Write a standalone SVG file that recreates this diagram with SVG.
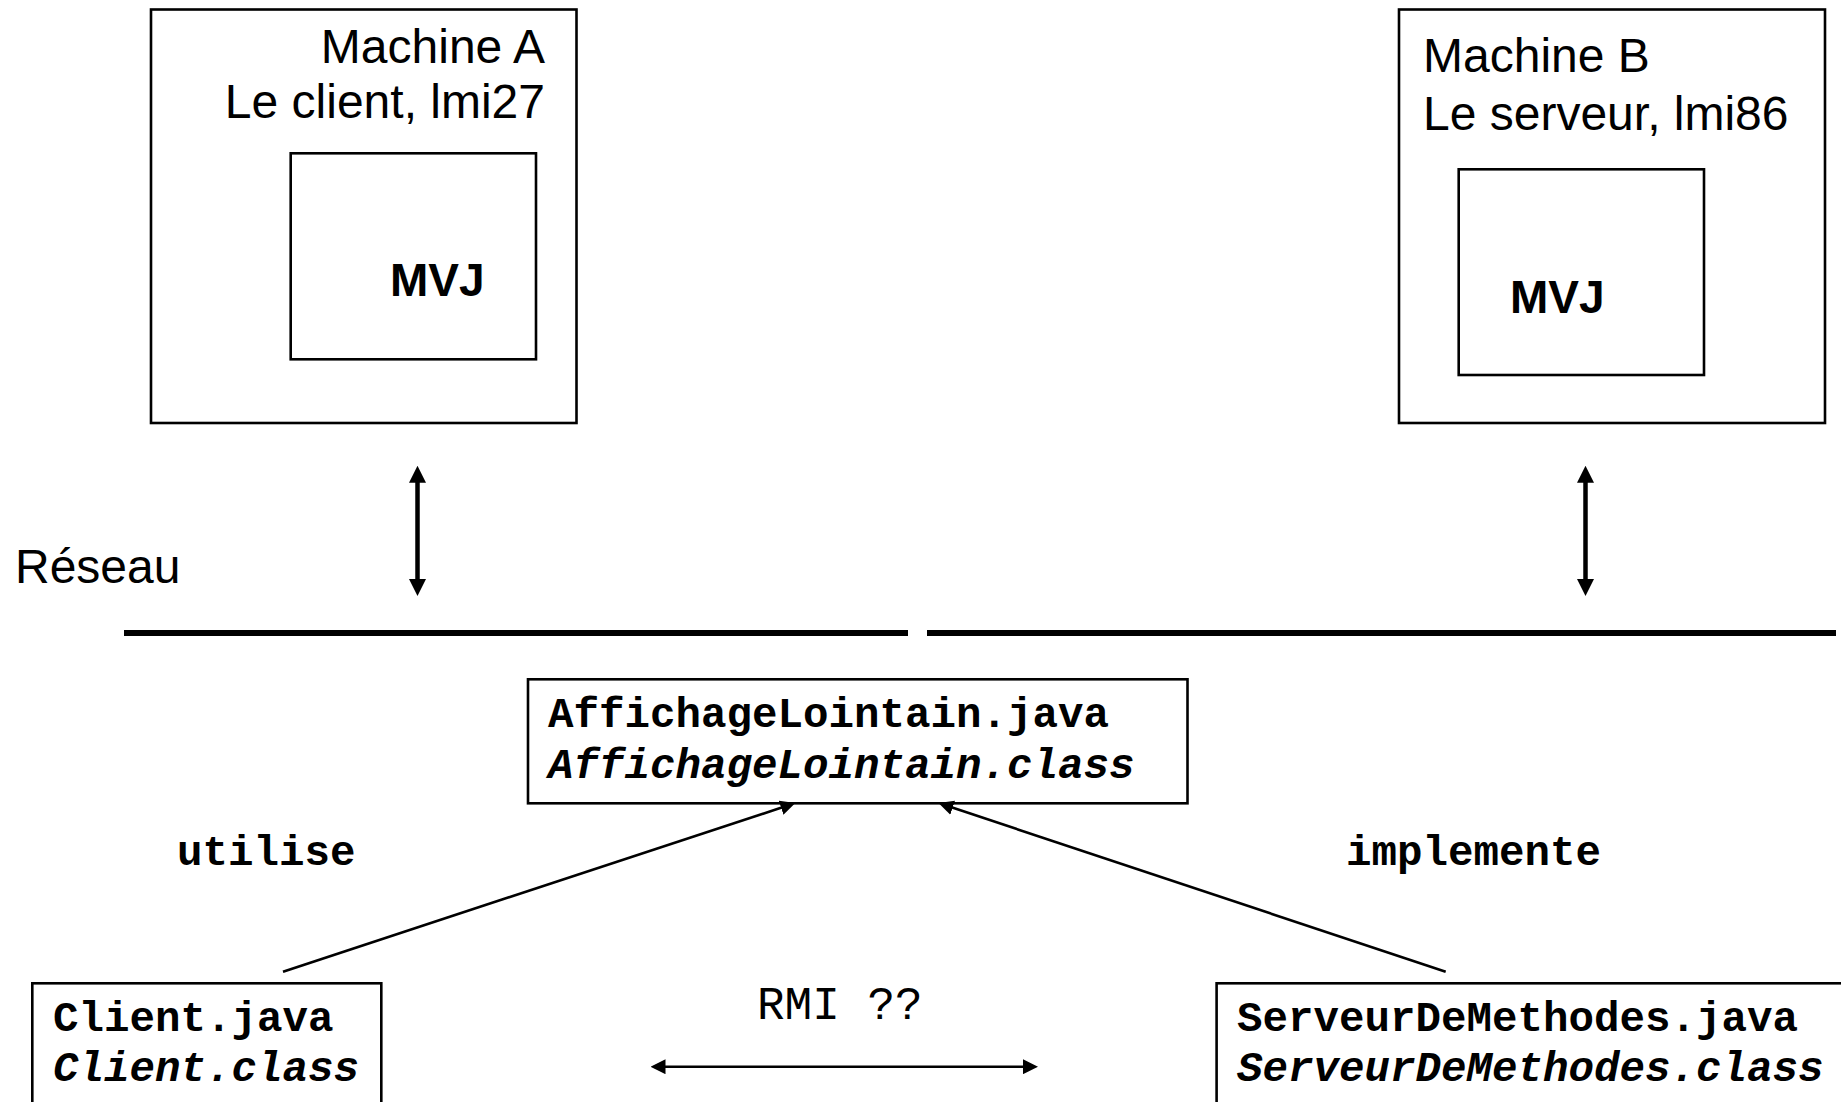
<svg xmlns="http://www.w3.org/2000/svg" width="1841" height="1102" viewBox="0 0 1841 1102">
<style>
.box{fill:#fff;stroke:#000;stroke-width:2.6}
.sans{font-family:"Liberation Sans",Arial,sans-serif;fill:#000}
.big{font-size:48px}
.mono{font-family:"Liberation Mono","Courier New",monospace;fill:#000;font-size:42.5px;font-weight:bold}
.it{font-style:italic}
.conn{stroke:#000;fill:none}
</style>
<defs>
<marker id="bigHead" viewBox="0 0 17 17" refX="7" refY="8.5" markerWidth="17" markerHeight="17" markerUnits="userSpaceOnUse" orient="auto-start-reverse">
<path d="M0,0 L17,8.5 L0,17 z" fill="#000"/>
</marker>
<marker id="head" viewBox="0 0 15 15" refX="10" refY="7.5" markerWidth="15" markerHeight="15" markerUnits="userSpaceOnUse" orient="auto-start-reverse">
<path d="M0,0 L15,7.5 L0,15 z" fill="#000"/>
</marker>
</defs>
<rect width="1841" height="1102" fill="#fff"/>

<g id="machineA">
<rect class="box" x="151" y="9.5" width="425.5" height="413.5"/>
<text class="sans big" x="545" y="62.7" text-anchor="end">Machine A</text>
<text class="sans big" x="545" y="118.3" text-anchor="end">Le client, lmi27</text>
</g>
<g id="mvjA">
<rect class="box" x="290.7" y="153.3" width="245.3" height="206"/>
<text class="sans" x="390" y="296" font-size="46" font-weight="bold">MVJ</text>
</g>

<g id="machineB">
<rect class="box" x="1399" y="9.5" width="426" height="413.5"/>
<text class="sans big" x="1423" y="71.7">Machine B</text>
<text class="sans big" x="1423" y="130">Le serveur, lmi86</text>
</g>
<g id="mvjB">
<rect class="box" x="1458.7" y="169.3" width="245.3" height="205.7"/>
<text class="sans" x="1510" y="312.7" font-size="46" font-weight="bold">MVJ</text>
</g>

<g id="reseau">
<text class="sans big" x="15" y="583.3">Réseau</text>
<line x1="124" y1="633" x2="908" y2="633" stroke="#000" stroke-width="6"/>
<line x1="927" y1="633" x2="1836" y2="633" stroke="#000" stroke-width="6"/>
</g>

<g id="affichage">
<rect class="box" x="528" y="679.3" width="659.5" height="124"/>
<text class="mono" x="548" y="726.7">AffichageLointain.java</text>
<text class="mono it" x="548" y="778.3">AffichageLointain.class</text>
</g>

<g id="client">
<rect class="box" x="32.3" y="983.3" width="349" height="140"/>
<text class="mono" x="53" y="1031">Client.java</text>
<text class="mono it" x="53" y="1080.5">Client.class</text>
</g>

<g id="serveur">
<rect class="box" x="1216.6" y="983.3" width="640" height="140"/>
<text class="mono" x="1237" y="1031">ServeurDeMethodes.java</text>
<text class="mono it" x="1237" y="1080.5">ServeurDeMethodes.class</text>
</g>

<g id="labels">
<text class="mono" x="177" y="865">utilise</text>
<text class="mono" x="1346" y="865">implemente</text>
<text x="757" y="1019" font-family="Liberation Mono,'Courier New',monospace" font-size="46">RMI ??</text>
</g>

<g id="connectors">
<line class="conn" x1="417.5" y1="475.7" x2="417.5" y2="586" stroke-width="4.5" marker-start="url(#bigHead)" marker-end="url(#bigHead)"/>
<line class="conn" x1="1585.5" y1="475.7" x2="1585.5" y2="586" stroke-width="4.5" marker-start="url(#bigHead)" marker-end="url(#bigHead)"/>
<line class="conn" x1="283" y1="971.7" x2="790.6" y2="804.6" stroke-width="2.6" marker-end="url(#head)"/>
<line class="conn" x1="1445.7" y1="971.7" x2="943.2" y2="804.6" stroke-width="2.6" marker-end="url(#head)"/>
<line class="conn" x1="655.5" y1="1066.7" x2="1033" y2="1066.7" stroke-width="2.4" marker-start="url(#head)" marker-end="url(#head)"/>
</g>
</svg>
